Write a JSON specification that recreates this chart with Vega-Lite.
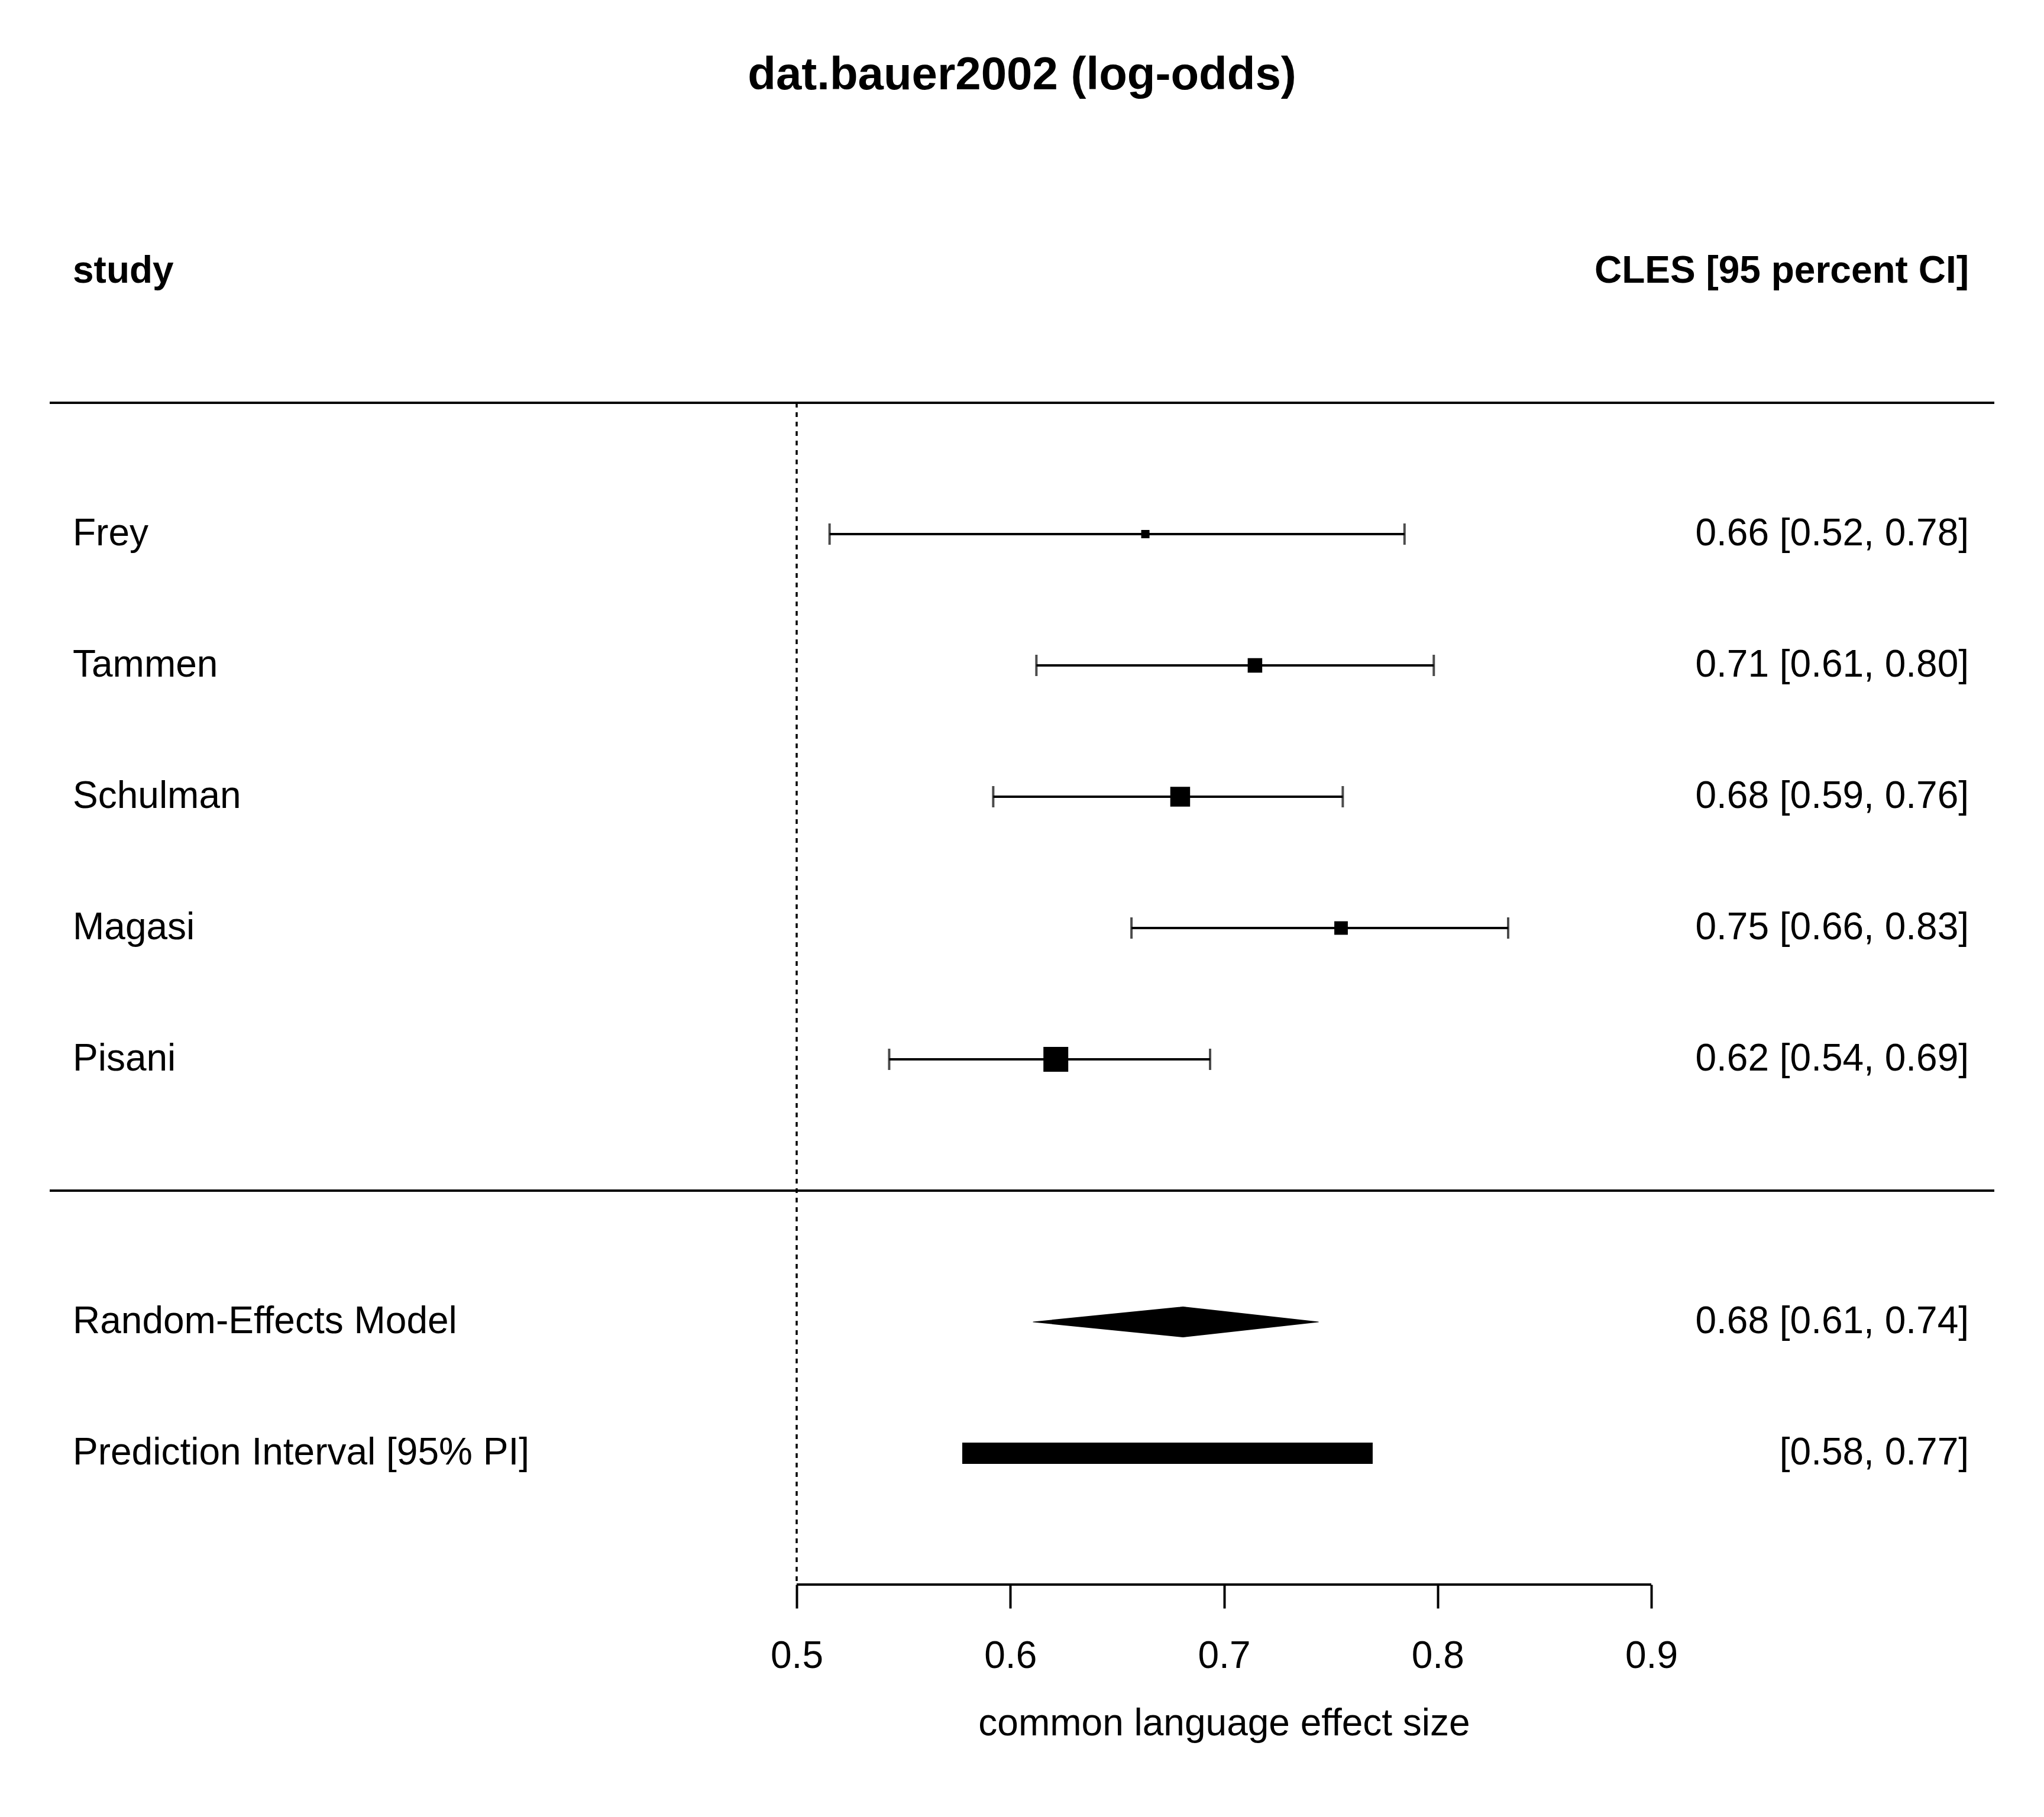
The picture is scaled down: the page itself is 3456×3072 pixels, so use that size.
{
  "$schema": "https://vega.github.io/schema/vega-lite/v6.json",
  "title": {"text": "dat.bauer2002 (log-odds)", "font": "Liberation Sans", "fontSize": 78, "fontWeight": "bold", "color": "black", "anchor": "middle", "offset": 70},
  "width": 3288,
  "height": 2442,
  "autosize": {"type": "none"},
  "padding": {"left": 84, "right": 84, "top": 237, "bottom": 393},
  "background": "white",
  "config": {
    "view": {"stroke": null},
    "text": {"font": "Liberation Sans", "fontSize": 64, "color": "black"}
  },
  "datasets": {
    "studies": [
      {"study": "Frey", "estimate": 0.6632, "ci_lb": 0.5154, "ci_ub": 0.7845, "weight": 12.1, "cles_label": "0.66 [0.52, 0.78]"},
      {"study": "Tammen", "estimate": 0.7145, "ci_lb": 0.6122, "ci_ub": 0.7982, "weight": 18.6, "cles_label": "0.71 [0.61, 0.80]"},
      {"study": "Schulman", "estimate": 0.6795, "ci_lb": 0.592, "ci_ub": 0.7556, "weight": 23.6, "cles_label": "0.68 [0.59, 0.76]"},
      {"study": "Magasi", "estimate": 0.7548, "ci_lb": 0.6567, "ci_ub": 0.833, "weight": 17.6, "cles_label": "0.75 [0.66, 0.83]"},
      {"study": "Pisani", "estimate": 0.6213, "ci_lb": 0.5433, "ci_ub": 0.6935, "weight": 28.1, "cles_label": "0.62 [0.54, 0.69]"}
    ],
    "model": [
      {"study": "Random-Effects Model", "estimate": 0.6808, "ci_lb": 0.6107, "ci_ub": 0.7442, "cles_label": "0.68 [0.61, 0.74]", "pi_name": "Prediction Interval [95% PI]", "pi_lb": 0.5775, "pi_ub": 0.7696, "pi_label": "[0.58, 0.77]"}
    ]
  },
  "layer": [
    {
      "data": {"name": "model"},
      "mark": {"type": "rule", "color": "black", "strokeWidth": 4},
      "encoding": {
        "y": {
          "datum": "top rule",
          "type": "nominal",
          "scale": {
            "type": "point",
            "domain": ["header", "top rule", "Frey", "Tammen", "Schulman", "Magasi", "Pisani", "bottom rule", "Random-Effects Model", "Prediction Interval [95% PI]", "axis"],
            "padding": 0.5,
            "align": 1
          },
          "axis": null
        }
      }
    },
    {
      "data": {"name": "model"},
      "mark": {"type": "rule", "color": "black", "strokeWidth": 4},
      "encoding": {"y": {"datum": "bottom rule", "type": "nominal"}}
    },
    {
      "data": {"name": "studies"},
      "mark": {"type": "rule", "color": "black", "strokeWidth": 4},
      "encoding": {
        "x": {
          "field": "ci_lb",
          "type": "quantitative",
          "scale": {"domain": [0.15038, 1.06055], "nice": false, "zero": false},
          "title": "common language effect size",
          "axis": {
            "values": [0.5, 0.6, 0.7, 0.8, 0.9],
            "format": ".1f",
            "domain": false,
            "grid": false,
            "ticks": true,
            "tickSize": 40,
            "tickWidth": 4,
            "tickColor": "black",
            "labelFont": "Liberation Sans",
            "labelFontSize": 64,
            "labelColor": "black",
            "labelPadding": 49,
            "labelFlush": false,
            "labelOverlap": false,
            "titleFont": "Liberation Sans",
            "titleFontSize": 64,
            "titleFontWeight": "normal",
            "titleColor": "black",
            "titleBaseline": "alphabetic",
            "titleX": 1985.5,
            "titleY": 254
          }
        },
        "x2": {"field": "ci_ub"},
        "y": {"field": "study", "type": "nominal"}
      }
    },
    {
      "data": {"name": "model"},
      "mark": {"type": "rule", "color": "black", "strokeWidth": 3.5, "strokeDash": [8, 8]},
      "encoding": {
        "x": {"datum": 0.5, "type": "quantitative"},
        "y": {"datum": "top rule", "type": "nominal"},
        "y2": {"datum": "axis"}
      }
    },
    {
      "data": {"name": "model"},
      "mark": {"type": "rule", "color": "black", "strokeWidth": 4},
      "encoding": {
        "x": {"datum": 0.5, "type": "quantitative"},
        "x2": {"datum": 0.9},
        "y": {"datum": "axis", "type": "nominal"}
      }
    },
    {
      "data": {"name": "studies"},
      "mark": {"type": "tick", "orient": "vertical", "color": "black", "size": 36, "thickness": 4},
      "encoding": {
        "x": {"field": "ci_lb", "type": "quantitative"},
        "y": {"field": "study", "type": "nominal"}
      }
    },
    {
      "data": {"name": "studies"},
      "mark": {"type": "tick", "orient": "vertical", "color": "black", "size": 36, "thickness": 4},
      "encoding": {
        "x": {"field": "ci_ub", "type": "quantitative"},
        "y": {"field": "study", "type": "nominal"}
      }
    },
    {
      "data": {"name": "studies"},
      "mark": {"type": "point", "shape": "square", "filled": true, "color": "black", "opacity": 1, "strokeWidth": 0},
      "encoding": {
        "x": {"field": "estimate", "type": "quantitative"},
        "y": {"field": "study", "type": "nominal"},
        "size": {"field": "weight", "type": "quantitative", "scale": {"type": "pow", "exponent": 2.6, "domain": [0, 28.1], "range": [0, 1764], "zero": true}, "legend": null}
      }
    },
    {
      "data": {"name": "model"},
      "transform": [{"fold": ["ci_lb", "estimate", "ci_ub"], "as": ["part", "value"]}],
      "mark": {"type": "trail", "color": "black"},
      "encoding": {
        "x": {"field": "value", "type": "quantitative"},
        "y": {"field": "study", "type": "nominal"},
        "size": {"field": "part", "type": "ordinal", "scale": {"type": "ordinal", "domain": ["ci_lb", "estimate", "ci_ub"], "range": [0, 52, 0]}, "legend": null}
      }
    },
    {
      "data": {"name": "model"},
      "mark": {"type": "rule", "color": "black", "strokeWidth": 36, "strokeCap": "butt"},
      "encoding": {
        "x": {"field": "pi_lb", "type": "quantitative"},
        "x2": {"field": "pi_ub"},
        "y": {"field": "pi_name", "type": "nominal"}
      }
    },
    {
      "data": {"name": "model"},
      "mark": {"type": "text", "align": "left", "baseline": "middle", "fontWeight": "bold"},
      "encoding": {
        "x": {"datum": 0.16118, "type": "quantitative"},
        "y": {"datum": "header", "type": "nominal"},
        "text": {"value": "study"}
      }
    },
    {
      "data": {"name": "model"},
      "mark": {"type": "text", "align": "right", "baseline": "middle", "fontWeight": "bold"},
      "encoding": {
        "x": {"datum": 1.04865, "type": "quantitative"},
        "y": {"datum": "header", "type": "nominal"},
        "text": {"value": "CLES [95 percent CI]"}
      }
    },
    {
      "data": {"name": "studies"},
      "mark": {"type": "text", "align": "left", "baseline": "middle"},
      "encoding": {
        "x": {"datum": 0.16118, "type": "quantitative"},
        "y": {"field": "study", "type": "nominal"},
        "text": {"field": "study"}
      }
    },
    {
      "data": {"name": "studies"},
      "mark": {"type": "text", "align": "right", "baseline": "middle"},
      "encoding": {
        "x": {"datum": 1.04865, "type": "quantitative"},
        "y": {"field": "study", "type": "nominal"},
        "text": {"field": "cles_label"}
      }
    },
    {
      "data": {"name": "model"},
      "mark": {"type": "text", "align": "left", "baseline": "middle"},
      "encoding": {
        "x": {"datum": 0.16118, "type": "quantitative"},
        "y": {"field": "study", "type": "nominal"},
        "text": {"field": "study"}
      }
    },
    {
      "data": {"name": "model"},
      "mark": {"type": "text", "align": "right", "baseline": "middle"},
      "encoding": {
        "x": {"datum": 1.04865, "type": "quantitative"},
        "y": {"field": "study", "type": "nominal"},
        "text": {"field": "cles_label"}
      }
    },
    {
      "data": {"name": "model"},
      "mark": {"type": "text", "align": "left", "baseline": "middle"},
      "encoding": {
        "x": {"datum": 0.16118, "type": "quantitative"},
        "y": {"field": "pi_name", "type": "nominal"},
        "text": {"field": "pi_name"}
      }
    },
    {
      "data": {"name": "model"},
      "mark": {"type": "text", "align": "right", "baseline": "middle"},
      "encoding": {
        "x": {"datum": 1.04865, "type": "quantitative"},
        "y": {"field": "pi_name", "type": "nominal"},
        "text": {"field": "pi_label"}
      }
    }
  ]
}
